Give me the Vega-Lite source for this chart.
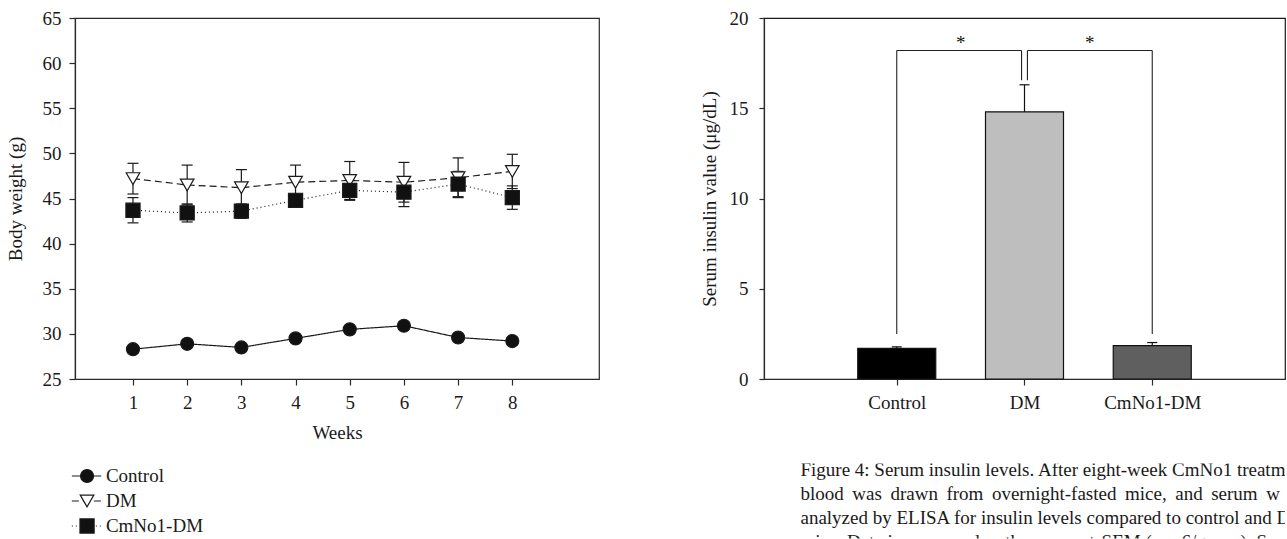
{
  "$schema": "https://vega.github.io/schema/vega-lite/v6.json",
  "background": "white",
  "padding": {"left": 5, "top": 8, "right": 0, "bottom": 0},
  "columns": 2,
  "bounds": "flush",
  "spacing": {"column": 165, "row": 84.5},
  "config": {
    "font": "Liberation Serif",
    "view": {"stroke": null},
    "axis": {
      "labelFont": "Liberation Serif", "titleFont": "Liberation Serif",
      "labelFontSize": 19, "titleFontSize": 19, "titleFontWeight": "normal",
      "labelColor": "#1a1a1a", "titleColor": "#1a1a1a",
      "domainColor": "#2a2a2a", "tickColor": "#2a2a2a", "domainWidth": 1.2, "tickWidth": 1.2,
      "tickSize": 6, "labelPadding": 8, "grid": false
    }
  },
  "datasets": {
    "weights": [
      {"week": 1, "group": "Control", "mean": 28.3, "lo": 27.9, "hi": 28.7},
      {"week": 2, "group": "Control", "mean": 28.9, "lo": 28.5, "hi": 29.3},
      {"week": 3, "group": "Control", "mean": 28.5, "lo": 28.1, "hi": 28.9},
      {"week": 4, "group": "Control", "mean": 29.5, "lo": 29.1, "hi": 29.9},
      {"week": 5, "group": "Control", "mean": 30.5, "lo": 30.1, "hi": 30.9},
      {"week": 6, "group": "Control", "mean": 30.9, "lo": 30.5, "hi": 31.3},
      {"week": 7, "group": "Control", "mean": 29.6, "lo": 29.2, "hi": 30.0},
      {"week": 8, "group": "Control", "mean": 29.2, "lo": 28.8, "hi": 29.6},
      {"week": 1, "group": "DM", "mean": 47.2, "lo": 45.5, "hi": 48.9},
      {"week": 2, "group": "DM", "mean": 46.5, "lo": 44.3, "hi": 48.7},
      {"week": 3, "group": "DM", "mean": 46.2, "lo": 44.2, "hi": 48.2},
      {"week": 4, "group": "DM", "mean": 46.8, "lo": 44.9, "hi": 48.7},
      {"week": 5, "group": "DM", "mean": 47.0, "lo": 44.9, "hi": 49.1},
      {"week": 6, "group": "DM", "mean": 46.8, "lo": 44.6, "hi": 49.0},
      {"week": 7, "group": "DM", "mean": 47.3, "lo": 45.1, "hi": 49.5},
      {"week": 8, "group": "DM", "mean": 48.0, "lo": 46.1, "hi": 49.9},
      {"week": 1, "group": "CmNo1-DM", "mean": 43.7, "lo": 42.3, "hi": 45.1},
      {"week": 2, "group": "CmNo1-DM", "mean": 43.4, "lo": 42.4, "hi": 44.4},
      {"week": 3, "group": "CmNo1-DM", "mean": 43.6, "lo": 42.8, "hi": 44.4},
      {"week": 4, "group": "CmNo1-DM", "mean": 44.8, "lo": 44.5, "hi": 45.1},
      {"week": 5, "group": "CmNo1-DM", "mean": 45.9, "lo": 44.8, "hi": 47.0},
      {"week": 6, "group": "CmNo1-DM", "mean": 45.7, "lo": 44.1, "hi": 47.3},
      {"week": 7, "group": "CmNo1-DM", "mean": 46.6, "lo": 45.2, "hi": 48.0},
      {"week": 8, "group": "CmNo1-DM", "mean": 45.1, "lo": 43.8, "hi": 46.4}
    ],
    "insulin": [
      {"idx": 1, "group": "Control", "mean": 1.7, "hi": 1.78},
      {"idx": 2, "group": "DM", "mean": 14.8, "hi": 16.3},
      {"idx": 3, "group": "CmNo1-DM", "mean": 1.85, "hi": 2.02}
    ],
    "brackets": [
      {"x": 1, "x2": 1.977, "y": 18.2, "y2": 18.2},
      {"x": 2.023, "x2": 3, "y": 18.2, "y2": 18.2},
      {"x": 1, "x2": 1, "y": 2.5, "y2": 18.2},
      {"x": 1.977, "x2": 1.977, "y": 16.55, "y2": 18.2},
      {"x": 2.023, "x2": 2.023, "y": 16.55, "y2": 18.2},
      {"x": 3, "x2": 3, "y": 2.5, "y2": 18.2}
    ],
    "stars": [
      {"x": 1.5, "y": 18.3, "t": "*"},
      {"x": 2.51, "y": 18.3, "t": "*"}
    ],
    "legend": [
      {"group": "Control", "row": 1},
      {"group": "DM", "row": 2},
      {"group": "CmNo1-DM", "row": 3}
    ],
    "caption": [
      {"line": 1, "text": "Figure 4: Serum insulin levels. After eight-week CmNo1 treatme"},
      {"line": 2, "text": "blood \u2009was \u2009drawn \u2009from \u2009overnight-fasted \u2009mice, \u2009and \u2009serum \u2009w"},
      {"line": 3, "text": "analyzed by ELISA for insulin levels compared to control and D"},
      {"line": 4, "text": "mice. Data is expressed as the means ± SEM (n = 6/group). Symb"}
    ]
  },
  "concat": [
    {
      "width": 524, "height": 361,
      "view": {"stroke": "#2a2a2a", "strokeWidth": 1.2},
      "data": {"name": "weights"},
      "encoding": {
        "x": {"field": "week", "type": "quantitative",
              "scale": {"domain": [-0.07, 9.6], "nice": false, "zero": false},
              "axis": {"values": [1, 2, 3, 4, 5, 6, 7, 8], "title": "Weeks", "titlePadding": 11}}
      },
      "layer": [
        {
          "mark": {"type": "line", "color": "#1a1a1a", "strokeWidth": 1.2},
          "encoding": {
            "y": {"field": "mean", "type": "quantitative",
                  "scale": {"domain": [25, 65], "nice": false, "zero": false},
                  "axis": {"values": [25, 30, 35, 40, 45, 50, 55, 60, 65], "title": "Body weight (g)", "titlePadding": 17}},
            "strokeDash": {"field": "group", "type": "nominal",
                           "scale": {"domain": ["Control", "DM", "CmNo1-DM"], "range": [[1, 0], [7, 4], [1, 3]]},
                           "legend": null}
          }
        },
        {
          "mark": {"type": "rule", "color": "#1a1a1a", "strokeWidth": 1.2},
          "encoding": {
            "y": {"field": "lo", "type": "quantitative"},
            "y2": {"field": "hi"}
          }
        },
        {
          "mark": {"type": "tick", "orient": "horizontal", "color": "#1a1a1a", "size": 11, "thickness": 1.2, "opacity": 1},
          "encoding": {"y": {"field": "hi", "type": "quantitative"}}
        },
        {
          "mark": {"type": "tick", "orient": "horizontal", "color": "#1a1a1a", "size": 11, "thickness": 1.2, "opacity": 1},
          "encoding": {"y": {"field": "lo", "type": "quantitative"}}
        },
        {
          "mark": {"type": "point", "filled": true, "opacity": 1, "stroke": "#1a1a1a", "strokeWidth": 1.2},
          "encoding": {
            "y": {"field": "mean", "type": "quantitative"},
            "shape": {"field": "group", "type": "nominal",
                      "scale": {"domain": ["Control", "DM", "CmNo1-DM"], "range": ["circle", "triangle-down", "square"]},
                      "legend": null},
            "fill": {"field": "group", "type": "nominal",
                     "scale": {"domain": ["Control", "DM", "CmNo1-DM"], "range": ["#111111", "#ffffff", "#111111"]},
                     "legend": null},
            "size": {"field": "group", "type": "nominal",
                     "scale": {"domain": ["Control", "DM", "CmNo1-DM"], "range": [169, 200, 144]},
                     "legend": null}
          }
        }
      ]
    },
    {
      "width": 521, "height": 361,
      "view": {"stroke": "#1a1a1a", "strokeWidth": 1.2},
      "layer": [
        {
          "data": {"name": "insulin"},
          "mark": {"type": "bar", "orient": "vertical", "width": 78, "stroke": "#111111", "strokeWidth": 1.2, "opacity": 1},
          "encoding": {
            "x": {"field": "idx", "type": "quantitative",
                  "scale": {"domain": [0, 4], "nice": false, "zero": false},
                  "axis": {"values": [1, 2, 3], "title": null,
                           "labelExpr": "datum.value == 1 ? 'Control' : datum.value == 2 ? 'DM' : 'CmNo1-DM'"}},
            "y": {"field": "mean", "type": "quantitative",
                  "scale": {"domain": [0, 20], "nice": false},
                  "axis": {"values": [0, 5, 10, 15, 20], "title": "Serum insulin value (μg/dL)", "labelPadding": 11, "tickSize": 5, "titlePadding": 10}},
            "color": {"field": "group", "type": "nominal",
                      "scale": {"domain": ["Control", "DM", "CmNo1-DM"], "range": ["#000000", "#bebebe", "#5f5f5f"]},
                      "legend": null}
          }
        },
        {
          "data": {"name": "insulin"},
          "mark": {"type": "rule", "color": "#111111", "strokeWidth": 1.2},
          "encoding": {
            "x": {"field": "idx", "type": "quantitative"},
            "y": {"field": "mean", "type": "quantitative"},
            "y2": {"field": "hi"}
          }
        },
        {
          "data": {"name": "insulin"},
          "mark": {"type": "tick", "orient": "horizontal", "color": "#111111", "size": 10, "thickness": 1.2, "opacity": 1},
          "encoding": {
            "x": {"field": "idx", "type": "quantitative"},
            "y": {"field": "hi", "type": "quantitative"}
          }
        },
        {
          "data": {"name": "brackets"},
          "mark": {"type": "rule", "color": "#222222", "strokeWidth": 1.1},
          "encoding": {
            "x": {"field": "x", "type": "quantitative"},
            "x2": {"field": "x2"},
            "y": {"field": "y", "type": "quantitative"},
            "y2": {"field": "y2"}
          }
        },
        {
          "data": {"name": "stars"},
          "mark": {"type": "text", "fontSize": 19, "baseline": "alphabetic", "color": "#111111"},
          "encoding": {
            "x": {"field": "x", "type": "quantitative"},
            "y": {"field": "y", "type": "quantitative"},
            "text": {"field": "t"}
          }
        }
      ]
    },
    {
      "width": 524, "height": 75,
      "data": {"name": "legend"},
      "encoding": {
        "y": {"field": "row", "type": "quantitative", "scale": {"domain": [0.5, 3.5], "reverse": true, "nice": false, "zero": false}, "axis": null}
      },
      "layer": [
        {
          "mark": {"type": "rule", "color": "#1a1a1a", "strokeWidth": 1.2},
          "encoding": {
            "x": {"datum": -0.006, "type": "quantitative", "scale": {"domain": [0, 1], "nice": false, "zero": false}, "axis": null},
            "x2": {"datum": 0.05},
            "strokeDash": {"field": "group", "type": "nominal",
                           "scale": {"domain": ["Control", "DM", "CmNo1-DM"], "range": [[1, 0], [7, 4], [1, 3]]},
                           "legend": null}
          }
        },
        {
          "mark": {"type": "point", "filled": true, "opacity": 1, "stroke": "#1a1a1a", "strokeWidth": 1.2},
          "encoding": {
            "x": {"datum": 0.023, "type": "quantitative"},
            "shape": {"field": "group", "type": "nominal",
                      "scale": {"domain": ["Control", "DM", "CmNo1-DM"], "range": ["circle", "triangle-down", "square"]},
                      "legend": null},
            "fill": {"field": "group", "type": "nominal",
                     "scale": {"domain": ["Control", "DM", "CmNo1-DM"], "range": ["#111111", "#ffffff", "#111111"]},
                     "legend": null},
            "size": {"field": "group", "type": "nominal",
                     "scale": {"domain": ["Control", "DM", "CmNo1-DM"], "range": [169, 200, 144]},
                     "legend": null}
          }
        },
        {
          "mark": {"type": "text", "align": "left", "baseline": "middle", "fontSize": 19, "color": "#1a1a1a"},
          "encoding": {
            "x": {"datum": 0.059, "type": "quantitative"},
            "text": {"field": "group"}
          }
        }
      ]
    },
    {
      "width": 521, "height": 75,
      "data": {"name": "caption"},
      "mark": {"type": "text", "align": "left", "baseline": "middle", "fontSize": 19, "color": "#1a1a1a", "dy": -6, "clip": true},
      "encoding": {
        "x": {"datum": 0.07, "type": "quantitative", "scale": {"domain": [0, 1], "nice": false, "zero": false}, "axis": null},
        "y": {"field": "line", "type": "quantitative", "scale": {"domain": [0.5, 3.625], "reverse": true, "nice": false, "zero": false}, "axis": null},
        "text": {"field": "text"}
      }
    }
  ]
}
